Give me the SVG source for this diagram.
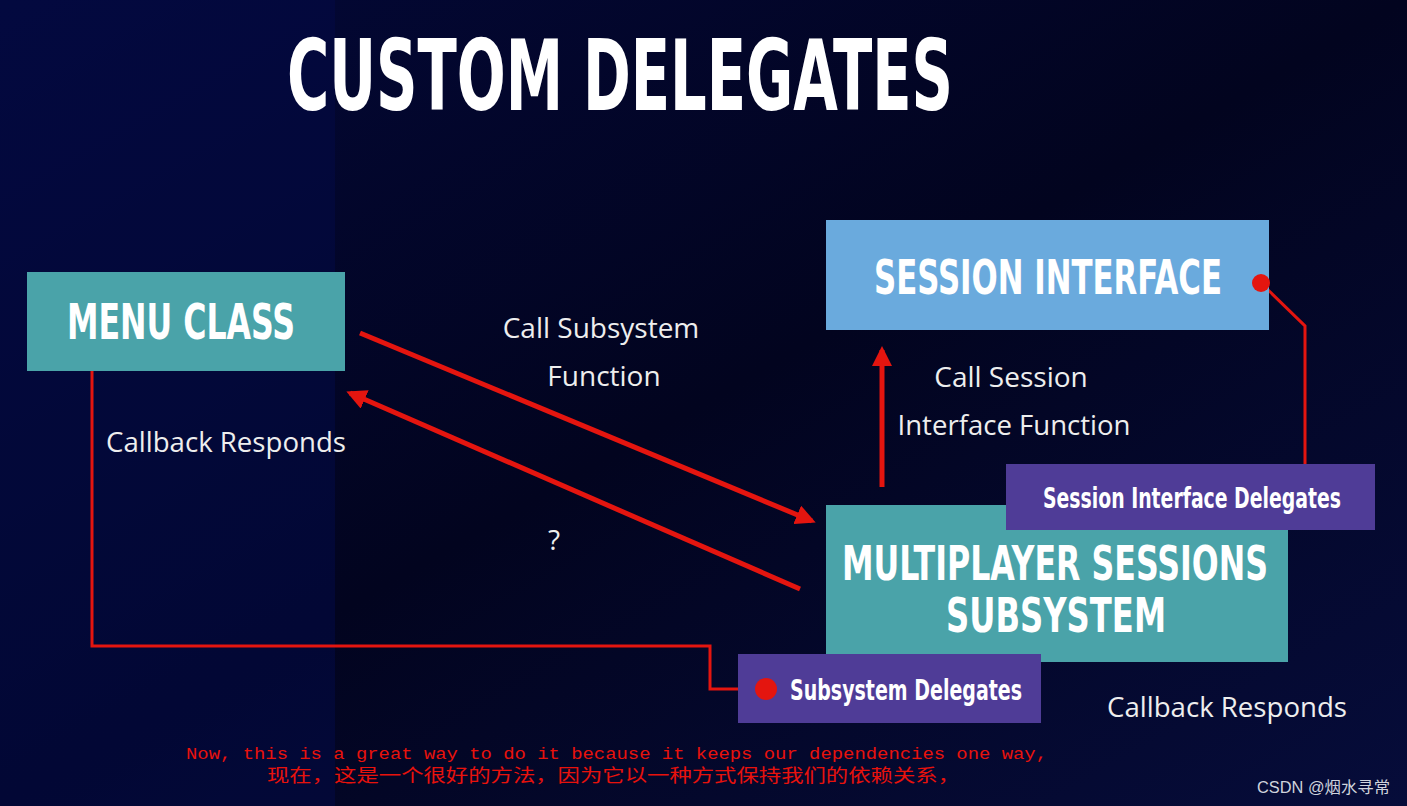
<svg xmlns="http://www.w3.org/2000/svg" width="1407" height="806" viewBox="0 0 1407 806">
<defs>
<linearGradient id="bg" x1="0" y1="0" x2="1" y2="1">
<stop offset="0" stop-color="#030838"/>
<stop offset="0.5" stop-color="#02041f"/>
<stop offset="1" stop-color="#060c3a"/>
</linearGradient>
<marker id="ah" viewBox="0 0 10 10" refX="8" refY="5" markerWidth="4" markerHeight="4" orient="auto-start-reverse" markerUnits="strokeWidth">
<path d="M0,0 L10,5 L0,10 z" fill="#e4150f"/>
</marker>
<style>
.cap{font-family:"DejaVu Sans Condensed","Liberation Sans",sans-serif;font-weight:bold;fill:#ffffff}
.lbl{font-family:"Open Sans","DejaVu Sans",sans-serif;fill:#eeeeee;font-size:28px}
.red{stroke:#e4150f;fill:none}
.sub{font-family:"Liberation Mono","DejaVu Sans Mono",monospace;fill:#e8120c;font-size:16px}
</style>
</defs>
<rect width="1407" height="806" fill="url(#bg)"/>
<rect x="0" y="0" width="335" height="806" fill="#040a44" opacity="0.6"/>
<text class="cap" x="287" y="110" font-size="98" textLength="666" lengthAdjust="spacingAndGlyphs">CUSTOM DELEGATES</text>

<g id="connectors">
<line class="red" x1="360" y1="333" x2="812" y2="521" stroke-width="5" marker-end="url(#ah)"/>
<line class="red" x1="800" y1="589" x2="350" y2="393" stroke-width="5" marker-end="url(#ah)"/>
<line class="red" x1="882" y1="487" x2="882" y2="350" stroke-width="5" marker-end="url(#ah)"/>
<polyline class="red" points="92,371 92,646 710,646 710,689 766,689" stroke-width="3"/>
<polyline class="red" points="1261,283 1305,326 1305,464" stroke-width="3"/>
</g>

<g id="menu-class">
<rect x="27" y="272" width="318" height="99" fill="#4aa3a9"/>
<text class="cap" x="67" y="339" font-size="50" textLength="228" lengthAdjust="spacingAndGlyphs">MENU CLASS</text>
</g>

<g id="session-interface">
<rect x="826" y="220" width="443" height="110" fill="#6aaadd"/>
<text class="cap" x="874" y="294" font-size="48" textLength="348" lengthAdjust="spacingAndGlyphs">SESSION INTERFACE</text>
<circle cx="1261" cy="283" r="9" fill="#e4150f"/>
</g>

<g id="multiplayer-subsystem">
<rect x="826" y="505" width="462" height="157" fill="#4aa3a9"/>
<text class="cap" x="842" y="580" font-size="48" textLength="426" lengthAdjust="spacingAndGlyphs">MULTIPLAYER SESSIONS</text>
<text class="cap" x="946" y="632" font-size="48" textLength="220" lengthAdjust="spacingAndGlyphs">SUBSYSTEM</text>
</g>

<g id="session-interface-delegates">
<rect x="1006" y="464" width="369" height="66" fill="#4f3c97"/>
<text class="cap" x="1043" y="508" font-size="28" textLength="298" lengthAdjust="spacingAndGlyphs">Session Interface Delegates</text>
</g>

<g id="subsystem-delegates">
<rect x="738" y="654" width="303" height="69" fill="#4f3c97"/>
<circle cx="766" cy="689" r="11" fill="#e4150f"/>
<text class="cap" x="790" y="700" font-size="28" textLength="232" lengthAdjust="spacingAndGlyphs">Subsystem Delegates</text>
</g>

<g id="labels">
<text class="lbl" x="601" y="338" text-anchor="middle">Call Subsystem</text>
<text class="lbl" x="604" y="386" text-anchor="middle">Function</text>
<text class="lbl" x="106" y="452" textLength="240" lengthAdjust="spacingAndGlyphs">Callback Responds</text>
<text class="lbl" x="554" y="550" text-anchor="middle">?</text>
<text class="lbl" x="1011" y="387" text-anchor="middle">Call Session</text>
<text class="lbl" x="1014" y="435" text-anchor="middle" textLength="233" lengthAdjust="spacingAndGlyphs">Interface Function</text>
<text class="lbl" x="1107" y="717" textLength="240" lengthAdjust="spacingAndGlyphs">Callback Responds</text>
</g>

<text class="sub" x="186" y="759" textLength="861" lengthAdjust="spacingAndGlyphs">Now, this is a great way to do it because it keeps our dependencies one way,</text>
<text x="267" y="782" font-family="'Noto Sans CJK SC',sans-serif" font-size="18" fill="#e8120c" textLength="693" lengthAdjust="spacingAndGlyphs">现在，这是一个很好的方法，因为它以一种方式保持我们的依赖关系，</text>
<text x="1257" y="793" font-family="'Liberation Sans','Noto Sans CJK SC',sans-serif" font-size="16" fill="#cfd3dc" textLength="133" lengthAdjust="spacingAndGlyphs">CSDN @烟水寻常</text>
</svg>
